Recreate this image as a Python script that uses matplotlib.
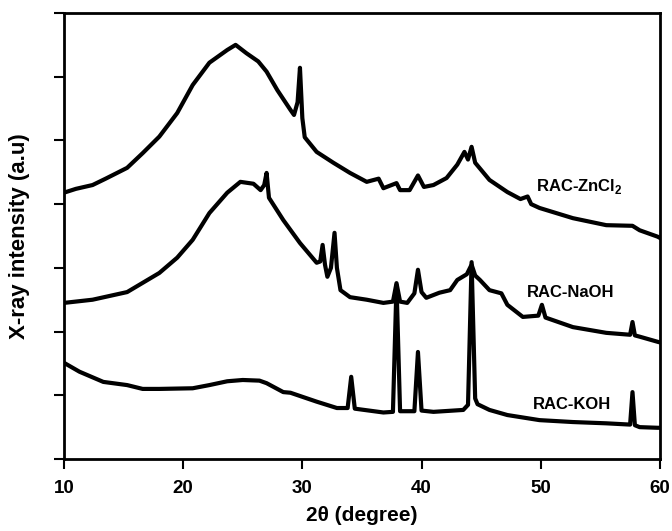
import matplotlib
matplotlib.use("Agg")
import matplotlib.pyplot as plt

plt.rcParams['font.family'] = ['Liberation Sans', 'DejaVu Sans']

# RAC-ZnCl2 (top trace)
zn_x = [10.0, 11.0, 12.4, 13.5, 15.3, 16.6, 18.0, 19.5, 20.8, 22.2, 23.7, 24.4, 25.3, 26.3,
        27.0, 27.9, 29.0, 29.3, 29.6, 29.8, 30.0, 30.2, 31.2, 32.6, 34.0, 35.4, 36.4, 36.8,
        37.9, 38.2, 39.0, 39.7, 40.2, 41.0, 42.1, 43.0, 43.6, 43.9, 44.2, 44.5, 45.7, 47.2,
        48.3, 48.9, 49.2, 49.9, 52.7, 55.5, 57.7, 58.3, 59.8, 60.0]
zn_y = [4.18, 4.24, 4.30, 4.40, 4.57, 4.80, 5.06, 5.43, 5.87, 6.22, 6.42, 6.50, 6.37, 6.24,
        6.08, 5.79, 5.48, 5.40, 5.60, 6.14, 5.35, 5.05, 4.82, 4.65, 4.49, 4.35, 4.40, 4.25,
        4.33, 4.22, 4.22, 4.45, 4.27, 4.30, 4.41, 4.62, 4.82, 4.70, 4.90, 4.65, 4.38, 4.19,
        4.08, 4.12, 4.00, 3.94, 3.78, 3.67, 3.66, 3.59, 3.49, 3.47]

# RAC-NaOH (middle trace)
na_x = [10.0, 12.4, 15.3, 18.0, 19.5, 20.8, 22.2, 23.7, 24.8, 25.9, 26.5, 26.8, 27.0, 27.2,
        28.4, 29.8, 31.2, 31.5, 31.7, 31.9, 32.1, 32.4, 32.7, 32.9, 33.2, 34.0, 35.4, 36.8,
        37.6, 37.9, 38.2, 38.8, 39.4, 39.7, 40.0, 40.4, 41.5, 42.4, 43.0, 43.8, 44.2, 44.5,
        44.9, 45.7, 46.7, 47.2, 48.5, 49.8, 50.1, 50.4, 52.7, 55.5, 57.5, 57.7, 57.9, 58.3,
        59.8, 60.0]
na_y = [2.45, 2.50, 2.62, 2.92, 3.16, 3.44, 3.86, 4.18, 4.35, 4.32, 4.22, 4.30, 4.49, 4.10,
        3.75, 3.39, 3.08, 3.10, 3.36, 3.05, 2.86, 3.00, 3.55, 3.00, 2.65, 2.54, 2.50, 2.45,
        2.47, 2.76, 2.47, 2.45, 2.60, 2.97, 2.62, 2.53, 2.61, 2.65, 2.81, 2.90, 3.05, 2.88,
        2.81, 2.65, 2.60, 2.42, 2.23, 2.25, 2.42, 2.22, 2.07, 1.98, 1.95, 2.15, 1.94, 1.92,
        1.84, 1.83]

# RAC-KOH (bottom trace)
k_x = [10.0, 11.3, 13.3, 15.3, 16.6, 18.0, 20.8, 22.2, 23.7, 25.0, 26.4, 27.0, 28.4, 29.0,
       31.2, 32.9, 33.8, 34.1, 34.4, 36.8, 37.6, 37.9, 38.2, 39.4, 39.7, 40.0, 41.0, 43.5,
       43.9, 44.2, 44.5, 44.7, 45.7, 47.2, 49.9, 52.7, 55.5, 57.5, 57.7, 57.9, 58.3, 59.8, 60.0]
k_y = [1.51, 1.37, 1.21, 1.16, 1.10, 1.10, 1.11, 1.16, 1.22, 1.24, 1.23, 1.19, 1.05, 1.04,
       0.90, 0.80, 0.80, 1.29, 0.79, 0.73, 0.74, 2.73, 0.75, 0.75, 1.68, 0.76, 0.74, 0.77,
       0.85, 3.09, 0.95, 0.86, 0.77, 0.69, 0.61, 0.58, 0.56, 0.54, 1.05, 0.53, 0.50, 0.49, 0.49]

labels = ['RAC-ZnCl$_\\mathregular{2}$', 'RAC-NaOH', 'RAC-KOH']
x_ticks = [10, 20, 30, 40, 50, 60]

fig = plt.figure(figsize=(6.72, 5.31), dpi=100)
ax = fig.add_axes([0.0952, 0.1356, 0.8868, 0.8399])

for xs, ys in [(zn_x, zn_y), (na_x, na_y), (k_x, k_y)]:
    ax.plot(xs, ys, color='black', lw=3.0, solid_joinstyle='round')

ax.set_xlim(10, 60)
ax.set_ylim(0, 7)
ax.set_xticks(x_ticks)
ax.set_xticklabels([str(t) for t in x_ticks], fontsize=13.5, fontweight='bold')
ax.set_yticks(range(0, 8))
ax.set_yticklabels([])
ax.tick_params(direction='out', length=7, width=1.5, pad=8)
for s in ax.spines.values():
    s.set_linewidth(2)

ax.set_xlabel('2θ (degree)', fontsize=15, fontweight='bold')
ax.set_ylabel('X-ray intensity (a.u)', fontsize=16, fontweight='bold')
ax.xaxis.set_label_coords(0.5, -0.105)
ax.yaxis.set_label_coords(-0.057, 0.5)

ax.text(49.6, 4.27, labels[0], fontsize=12, fontweight='bold', ha='left', va='center')
ax.text(48.8, 2.62, labels[1], fontsize=12, fontweight='bold', ha='left', va='center')
ax.text(49.3, 0.85, labels[2], fontsize=12, fontweight='bold', ha='left', va='center')

fig.savefig('out.png', dpi=100)
